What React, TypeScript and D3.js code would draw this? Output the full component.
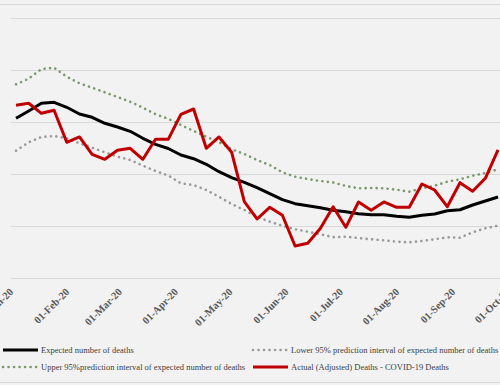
import { useEffect, useRef } from 'react';
import * as d3 from 'd3';

// weekly dates (week ending)
const weeks = [
  '2020-01-03', '2020-01-10', '2020-01-17', '2020-01-24', '2020-01-31',
  '2020-02-07', '2020-02-14', '2020-02-21', '2020-02-28',
  '2020-03-06', '2020-03-13', '2020-03-20', '2020-03-27',
  '2020-04-03', '2020-04-10', '2020-04-17', '2020-04-24',
  '2020-05-01', '2020-05-08', '2020-05-15', '2020-05-22', '2020-05-29',
  '2020-06-05', '2020-06-12', '2020-06-19', '2020-06-26',
  '2020-07-03', '2020-07-10', '2020-07-17', '2020-07-24', '2020-07-31',
  '2020-08-07', '2020-08-14', '2020-08-21', '2020-08-28',
  '2020-09-04', '2020-09-11', '2020-09-18', '2020-09-25',
];

const expected = [
  3071, 3212, 3360, 3379, 3283, 3154, 3090, 2975, 2904, 2821, 2687, 2571, 2490,
  2365, 2294, 2187, 2044, 1929, 1840, 1737, 1621, 1506, 1429, 1390, 1352, 1304,
  1275, 1237, 1217, 1217, 1187, 1167, 1206, 1231, 1294, 1313, 1404, 1481, 1558,
];

const upper = [
  3725, 3833, 4019, 4044, 3871, 3744, 3660, 3571, 3481, 3390, 3275, 3148, 3063,
  2942, 2827, 2717, 2610, 2475, 2385, 2269, 2173, 2033, 1948, 1904, 1865, 1837,
  1769, 1725, 1731, 1725, 1698, 1660, 1725, 1775, 1852, 1898, 1967, 2019, 2090,
];

const lower = [
  2448, 2610, 2712, 2731, 2687, 2590, 2506, 2417, 2333, 2269, 2160, 2058, 1971,
  1821, 1788, 1692, 1563, 1423, 1308, 1179, 1083, 1006, 937, 890, 840, 785,
  794, 769, 744, 725, 698, 687, 712, 744, 783, 775, 879, 956, 1006,
];

const actual = [
  3321, 3360, 3167, 3225, 2610, 2712, 2379, 2283, 2456, 2494, 2283, 2667, 2667,
  3148, 3250, 2494, 2712, 2417, 1467, 1135, 1360, 1206, 615, 667, 956, 1371,
  975, 1462, 1302, 1462, 1360, 1360, 1808, 1692, 1371, 1833, 1667, 1917, 2462,
];

const yTicks = [0, 1000, 2000, 3000, 4000, 5000];

const seriesInfo = [
  { name: 'Expected number of deaths', values: expected, color: '#000000', dots: false },
  { name: 'Lower 95% prediction interval of expected number of deaths', values: lower, color: '#9a9a9a', dots: true },
  { name: 'Upper 95%prediction interval of expected number of deaths', values: upper, color: '#7a9a6c', dots: true },
  { name: 'Actual (Adjusted) Deaths - COVID-19 Deaths', values: actual, color: '#c00000', dots: false },
];

const W = 500;
const H = 385;

export default function App() {
  const ref = useRef<SVGSVGElement>(null);

  useEffect(() => {
    const svg = d3.select(ref.current);
    svg.selectAll('*').remove();

    const parse = d3.timeParse('%Y-%m-%d');
    const dates = weeks.map((w) => parse(w) as Date);

    // plot area
    const left = 11;
    const right = 500;
    const x = d3.scaleTime()
      .domain([new Date(2020, 0, 1), new Date(2020, 9, 1)])
      .range([12.4, 508.9]);
    const y = d3.scaleLinear().domain([0, 5000]).range([278, 18]);

    svg.append('rect').attr('width', W).attr('height', H).attr('fill', '#f2f2f2');

    // top and bottom borders
    svg.append('line').attr('x1', 0).attr('x2', W).attr('y1', 4.5).attr('y2', 4.5)
      .attr('stroke', '#d9d9d9').attr('stroke-width', 1);
    svg.append('line').attr('x1', 0).attr('x2', W).attr('y1', 382.5).attr('y2', 382.5)
      .attr('stroke', '#d9d9d9').attr('stroke-width', 1);

    // gridlines
    svg.append('g')
      .selectAll('line')
      .data(yTicks)
      .enter()
      .append('line')
      .attr('x1', left)
      .attr('x2', right)
      .attr('y1', (d) => Math.round(y(d)) + 0.5)
      .attr('y2', (d) => Math.round(y(d)) + 0.5)
      .attr('stroke', '#d9d9d9')
      .attr('stroke-width', 1);

    // x tick labels
    const months = d3.timeMonth.range(new Date(2020, 0, 1), new Date(2020, 9, 2));
    const fmt = d3.timeFormat('%d-%b-%y');
    svg.append('g')
      .selectAll('text')
      .data(months)
      .enter()
      .append('text')
      .attr('transform', (d) => `translate(${x(d) + 1.5},292.5) rotate(-45)`)
      .attr('text-anchor', 'end')
      .style('font-family', '"Liberation Serif", "Times New Roman", serif')
      .style('font-size', '10.5px')
      .style('font-weight', 'bold')
      .attr('fill', '#595959')
      .text((d) => fmt(d));

    // series lines: dotted bands first, then expected, then actual
    const line = d3.line<number>()
      .x((_, i) => x(dates[i]))
      .y((d) => y(d));

    const drawOrder = [seriesInfo[2], seriesInfo[1], seriesInfo[0], seriesInfo[3]];
    drawOrder.forEach((s) => {
      const p = svg.append('path')
        .datum(s.values)
        .attr('d', line)
        .attr('fill', 'none')
        .attr('stroke', s.color)
        .attr('stroke-linejoin', 'round');
      if (s.dots) {
        p.attr('stroke-width', 2.6)
          .attr('stroke-linecap', 'round')
          .attr('stroke-dasharray', '0.1 5.4');
      } else {
        p.attr('stroke-width', 3);
      }
    });

    // legend
    const legendPos = [
      { x: 3, y: 350 },
      { x: 253, y: 350 },
      { x: 3, y: 367 },
      { x: 253, y: 367 },
    ];
    seriesInfo.forEach((s, i) => {
      const pos = legendPos[i];
      const g = svg.append('g').attr('transform', `translate(${pos.x},${pos.y})`);
      const l = g.append('line')
        .attr('x1', 0).attr('x2', 35).attr('y1', 0).attr('y2', 0)
        .attr('stroke', s.color);
      if (s.dots) {
        l.attr('stroke-width', 2.6).attr('stroke-linecap', 'round').attr('stroke-dasharray', '0.1 5.4');
      } else {
        l.attr('stroke-width', 3);
      }
      g.append('text')
        .attr('x', 38)
        .attr('y', 3)
        .style('font-family', '"Liberation Serif", "Times New Roman", serif')
        .style('font-size', '8.5px')
        .attr('fill', '#404040')
        .text(s.name);
    });
  }, []);

  return (
    <div style={{ position: 'fixed', left: 0, top: 0 }}>
      <svg ref={ref} width={W} height={H} style={{ display: 'block' }}></svg>
    </div>
  );
}
